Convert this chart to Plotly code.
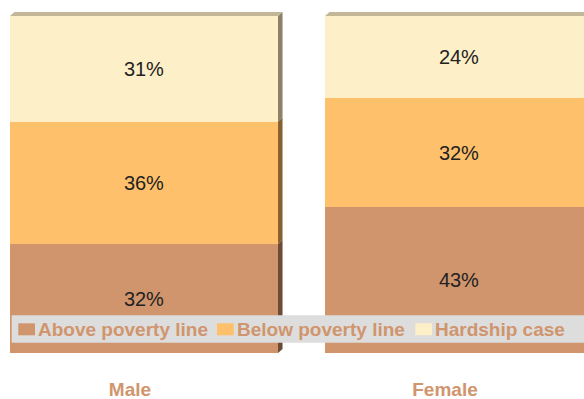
import numpy as np
import plotly.graph_objects as go

# ---- data -------------------------------------------------------------
genders = ["Male", "Female"]
series_names = ["Above poverty line", "Below poverty line", "Hardship case"]
above_poverty = [32, 43]
below_poverty = [36, 32]
hardship_case = [31, 24]

front_colors = ["#D0956D", "#FEC06A", "#FDEFC7"]
side_colors = ["#6C4A34", "#86602F", "#8B8167"]
top_color = "#C2B797"
label_color = "#D0956D"

# ---- layout constants -------------------------------------------------
W, H = 584, 399
M_T, M_B = 0, 46
PLOT_H = H - M_T - M_B
X_RANGE = [-0.4571, 1.3968]
Y_RANGE = [0, 103.7]
BAR_W = 0.851
DEPTH_PX = (4.5, 4.0)          # depth of the pseudo-3D faces, in pixels
FONT = "Liberation Sans, Arial, sans-serif"

px_per_x = W / (X_RANGE[1] - X_RANGE[0])
px_per_y = PLOT_H / (Y_RANGE[1] - Y_RANGE[0])
dx = DEPTH_PX[0] / px_per_x
dy = DEPTH_PX[1] / px_per_y

series_values = [above_poverty, below_poverty, hardship_case]
xpos = np.arange(len(genders), dtype=float)
stack = np.array(series_values, dtype=float)
bases = np.vstack([np.zeros(len(genders)), np.cumsum(stack, axis=0)[:-1]])
totals = stack.sum(axis=0)

fig = go.Figure()

# front faces: stacked bars
for name, vals, col in zip(series_names, series_values, front_colors):
    fig.add_trace(go.Bar(
        x=xpos, y=vals, name=name, width=BAR_W,
        marker=dict(color=col, line=dict(width=0)),
        text=[f"{v}%" for v in vals],
        textposition="inside", insidetextanchor="middle", textangle=0,
        textfont=dict(family=FONT, size=20, color="#222222"),
        hoverinfo="skip", showlegend=False,
    ))

# right-hand side faces of every segment
for k, col in enumerate(side_colors):
    xs, ys = [], []
    for i, xc in enumerate(xpos):
        xr = xc + BAR_W / 2
        b, t = bases[k, i], bases[k, i] + stack[k, i]
        xs += [xr, xr + dx, xr + dx, xr, xr, None]
        ys += [b, b + dy, t + dy, t, b, None]
    fig.add_trace(go.Scatter(
        x=xs, y=ys, mode="lines", fill="toself", fillcolor=col,
        line=dict(width=0, color=col), hoverinfo="skip", showlegend=False,
    ))

# top faces
xs, ys = [], []
for i, xc in enumerate(xpos):
    xl, xr, t = xc - BAR_W / 2, xc + BAR_W / 2, totals[i]
    xs += [xl, xl + dx, xr + dx, xr, xl, None]
    ys += [t, t + dy, t + dy, t, t, None]
fig.add_trace(go.Scatter(
    x=xs, y=ys, mode="lines", fill="toself", fillcolor=top_color,
    line=dict(width=0, color=top_color), hoverinfo="skip", showlegend=False,
))

# ---- legend strip -----------------------------------------------------
def px_x(p):
    return p / W

def px_y(p):
    return (M_T + PLOT_H - p) / PLOT_H

shapes = [dict(type="rect", xref="paper", yref="paper",
               x0=px_x(11.7), x1=px_x(590), y0=px_y(342.7), y1=px_y(315.3),
               fillcolor="#DDDDDD", line=dict(width=0), layer="above")]
annotations = []
legend_items = [(18.3, 36.4), (217.0, 234.8), (415.3, 432.8)]
for (sx, tx), name, col in zip(legend_items, series_names, front_colors):
    shapes.append(dict(type="rect", xref="paper", yref="paper",
                       x0=px_x(sx), x1=px_x(sx + 16.7),
                       y0=px_y(335.3), y1=px_y(323.3),
                       fillcolor=col, line=dict(width=0), layer="above"))
    annotations.append(dict(xref="paper", yref="paper", x=px_x(tx), y=px_y(329.5),
                            xanchor="left", yanchor="middle", showarrow=False,
                            text=name,
                            font=dict(family=FONT, size=19, color=label_color,
                                      weight="bold")))

fig.update_layout(
    width=W, height=H,
    margin=dict(l=0, r=0, t=M_T, b=M_B, pad=0),
    barmode="stack", bargap=0,
    paper_bgcolor="white", plot_bgcolor="white",
    showlegend=False,
    shapes=shapes, annotations=annotations,
    xaxis=dict(range=X_RANGE, tickvals=xpos, ticktext=genders,
               showgrid=False, zeroline=False, showline=False, ticks="",
               ticklabelstandoff=23, ticklabelshift=-14,
               tickfont=dict(family=FONT, size=19, color=label_color,
                             weight="bold"),
               fixedrange=True),
    yaxis=dict(range=Y_RANGE, visible=False, fixedrange=True),
)

fig.write_html("out.html")
